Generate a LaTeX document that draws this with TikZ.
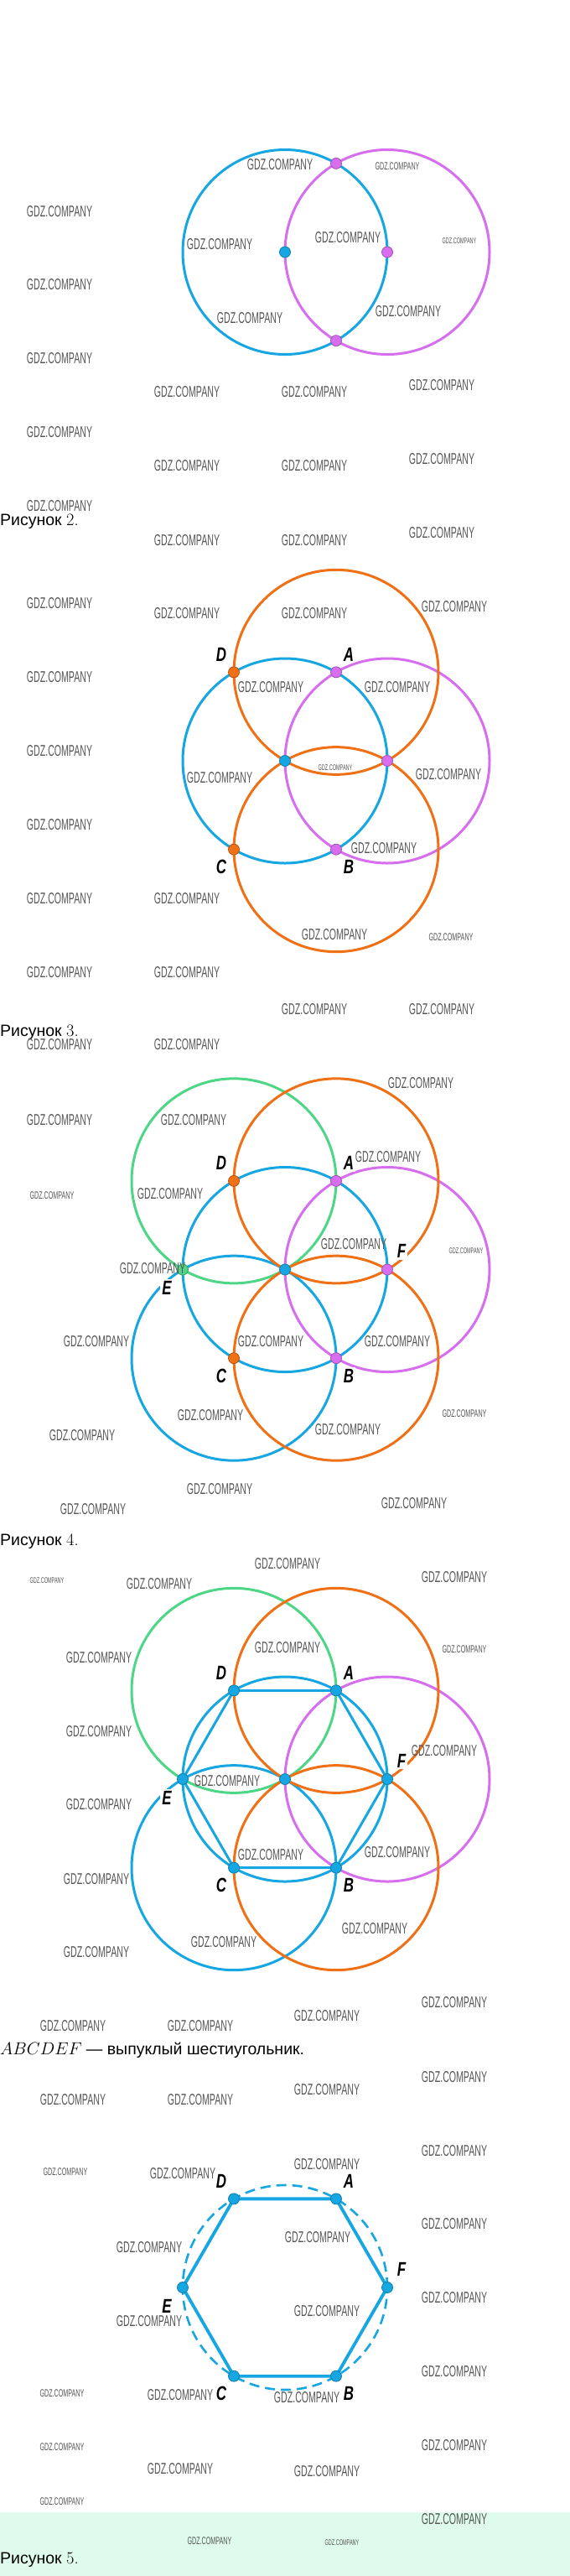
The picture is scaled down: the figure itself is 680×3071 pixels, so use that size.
\documentclass[tikz,border=0pt]{standalone}
\usepackage{fontspec}
\usetikzlibrary{calc}
\newfontfamily\wmfont[FakeStretch=0.57]{Liberation Sans}
\newfontfamily\lblfont[FakeStretch=0.72]{Liberation Sans}
\newfontfamily\capfont{Liberation Sans}

\definecolor{cblue}{RGB}{22,166,226}
\definecolor{cmag}{RGB}{214,110,238}
\definecolor{corange}{RGB}{240,112,22}
\definecolor{cgreen}{RGB}{76,214,134}
\definecolor{cmint}{RGB}{222,251,236}
\definecolor{cwm}{RGB}{85,85,85}

\tikzset{
  ring/.style={line width=3pt},
  vtx/.style={circle, inner sep=0pt, minimum size=13pt, line width=0.8pt},
  bdot/.style={vtx, fill=cblue, draw=cblue!75!black},
  mdot/.style={vtx, fill=cmag, draw=cmag!75!black},
  odot/.style={vtx, fill=corange, draw=corange!75!black},
  gdot/.style={vtx, fill=cgreen, draw=cgreen!75!black},
  lbl/.style={fill=white, inner sep=2pt, font=\lblfont\bfseries\itshape\fontsize{23.5}{24}\selectfont},
  wm/.style={inner sep=0pt, text=cwm, font=\wmfont\fontsize{18.6}{19}\selectfont},
  wms/.style={wm, font=\wmfont\fontsize{12.6}{13}\selectfont},
  wmt/.style={wm, font=\wmfont\fontsize{9.7}{10}\selectfont},
  captxt/.style={inner sep=0pt, anchor=base west, font=\capfont\fontsize{19.5}{22}\selectfont}
}
\newcommand\fignum[1]{{\rmfamily\fontsize{20.5}{22}\selectfont #1}}

\begin{document}
\begin{tikzpicture}[x=1pt, y=1pt]
  \fill[white] (0,0) rectangle (680,-3071);
  \fill[cmint] (0,-2995) rectangle (680,-3071);

  % hexagon points of every figure
  \foreach \k/\yy in {1/300.5, 2/907, 3/1513.5, 4/2121, 5/2727} {
    \begin{scope}[shift={(340,-\yy)}]
      \coordinate (O\k) at (0,0);
      \foreach \n/\a in {A/60, F/0, B/-60, C/-120, E/180, D/120}
        \coordinate (\n\k) at (\a:122);
    \end{scope}
  }

  % figure 1
  \draw[ring, cblue] (O1) circle (122);
  \draw[ring, cmag] (F1) circle (122);
  \node[bdot] (pO1) at (O1) {};
  \node[mdot] (pF1) at (F1) {};
  \node[mdot] (pA1) at (A1) {};
  \node[mdot] (pB1) at (B1) {};

  % figure 2
  \draw[ring, cblue] (O2) circle (122);
  \draw[ring, cmag] (F2) circle (122);
  \draw[ring, corange] (A2) circle (122);
  \draw[ring, corange] (B2) circle (122);
  \foreach \n/\dx/\dy in {A/15/21, B/15/-21, C/-15/-21, D/-15/21}
    \node[lbl] (l\n2) at ($(\n2)+(\dx,\dy)$) {\n};
  \node[bdot] (pO2) at (O2) {};
  \node[mdot] (pF2) at (F2) {};
  \node[mdot] (pA2) at (A2) {};
  \node[mdot] (pB2) at (B2) {};
  \node[odot] (pC2) at (C2) {};
  \node[odot] (pD2) at (D2) {};

  % figures 3 and 4
  \foreach \k in {3,4} {
    \draw[ring, cgreen] (D\k) circle (122);
    \draw[ring, cblue] (O\k) circle (122);
    \draw[ring, cblue] (C\k) circle (122);
    \draw[ring, cmag] (F\k) circle (122);
    \draw[ring, corange] (A\k) circle (122);
    \draw[ring, corange] (B\k) circle (122);
  }
  \draw[ring, cblue] (D4) -- (A4) -- (F4) -- (B4) -- (C4) -- (E4) -- cycle;
  \foreach \k in {3,4,5}
    \foreach \n/\dx/\dy in {A/15/21, B/15/-21, C/-15/-21, D/-15/21, E/-19/-22, F/17/22}
      \node[lbl] (l\n\k) at ($(\n\k)+(\dx,\dy)$) {\n};
  \node[bdot] (pO3) at (O3) {};
  \node[mdot] (pA3) at (A3) {};
  \node[mdot] (pF3) at (F3) {};
  \node[mdot] (pB3) at (B3) {};
  \node[odot] (pC3) at (C3) {};
  \node[odot] (pD3) at (D3) {};
  \node[gdot] (pE3) at (E3) {};
  \foreach \n in {O,A,B,C,D,E,F}
    \node[bdot] (p\n4) at (\n4) {};

  % figure 5
  \draw[cblue, line width=2.6pt, dash pattern=on 12pt off 7pt] (O5) circle (122);
  \draw[cblue, line width=3.8pt] (D5) -- (A5) -- (F5) -- (B5) -- (C5) -- (E5) -- cycle;
  \foreach \n in {A,B,C,D,E,F}
    \node[bdot] (p\n5) at (\n5) {};

  % captions
  \node[captxt] (cap2) at (0,-626) {Рисунок \fignum{2.}};
  \node[captxt] (cap3) at (0,-1235) {Рисунок \fignum{3.}};
  \node[captxt] (cap4) at (0,-1842) {Рисунок \fignum{4.}};
  \node[captxt] (hex) at (0,-2449) {{\fontsize{22.5}{24}\selectfont$ABCDEF$} — выпуклый шестиугольник.};
  \node[captxt] (cap5) at (0,-3056) {Рисунок \fignum{5.}};

  % watermarks
  \foreach \x/\y [count=\i] in {334/196, 71/252, 262/291, 415/283, 71/339, 298/379, 487/371,
      71/427, 223/467, 375/467, 527/459, 71/515, 223/555, 375/555, 527/547, 71/603, 527/635,
      223/644, 375/644, 71/719, 223/731, 375/731, 542/723, 71/807, 323/819, 474/819, 71/895,
      262/927, 535/923, 71/983, 458/1011, 71/1071, 223/1071, 399/1114, 71/1159, 223/1159,
      375/1203, 527/1203, 71/1245, 223/1245,
      502/1291, 71/1335, 231/1335, 463/1379, 203/1423, 422/1483, 182/1512, 115/1599, 323/1599,
      474/1599, 251/1687, 98/1711, 415/1704, 262/1775, 494/1792, 111/1799,
      343/1864, 190/1888, 542/1880, 118/1976, 343/1964, 118/2064, 530/2087, 271/2123, 118/2151,
      115/2240, 323/2211, 474/2208, 447/2299, 267/2315, 115/2327, 542/2387, 390/2403, 87/2415,
      239/2415, 542/2476,
      87/2503, 239/2503, 390/2491, 542/2564, 390/2580, 218/2591, 542/2651, 379/2667, 178/2679,
      542/2739, 390/2755, 178/2767, 542/2827, 215/2855, 366/2858, 542/2915, 215/2943, 390/2946,
      542/3003}
    \node[wm] (wm\i) at (\x,-\y) {GDZ.COMPANY};
  \foreach \x/\y [count=\i] in {474/198, 538/1117, 62/1425, 554/1685, 554/1966, 78/2589,
      74/2853, 74/2917, 74/2982, 250/3029}
    \node[wms] (ws\i) at (\x,-\y) {GDZ.COMPANY};
  \foreach \x/\y [count=\i] in {548/287, 400/915, 556/1491, 56/1884, 408/3031}
    \node[wmt] (wt\i) at (\x,-\y) {GDZ.COMPANY};
\end{tikzpicture}
\end{document}
